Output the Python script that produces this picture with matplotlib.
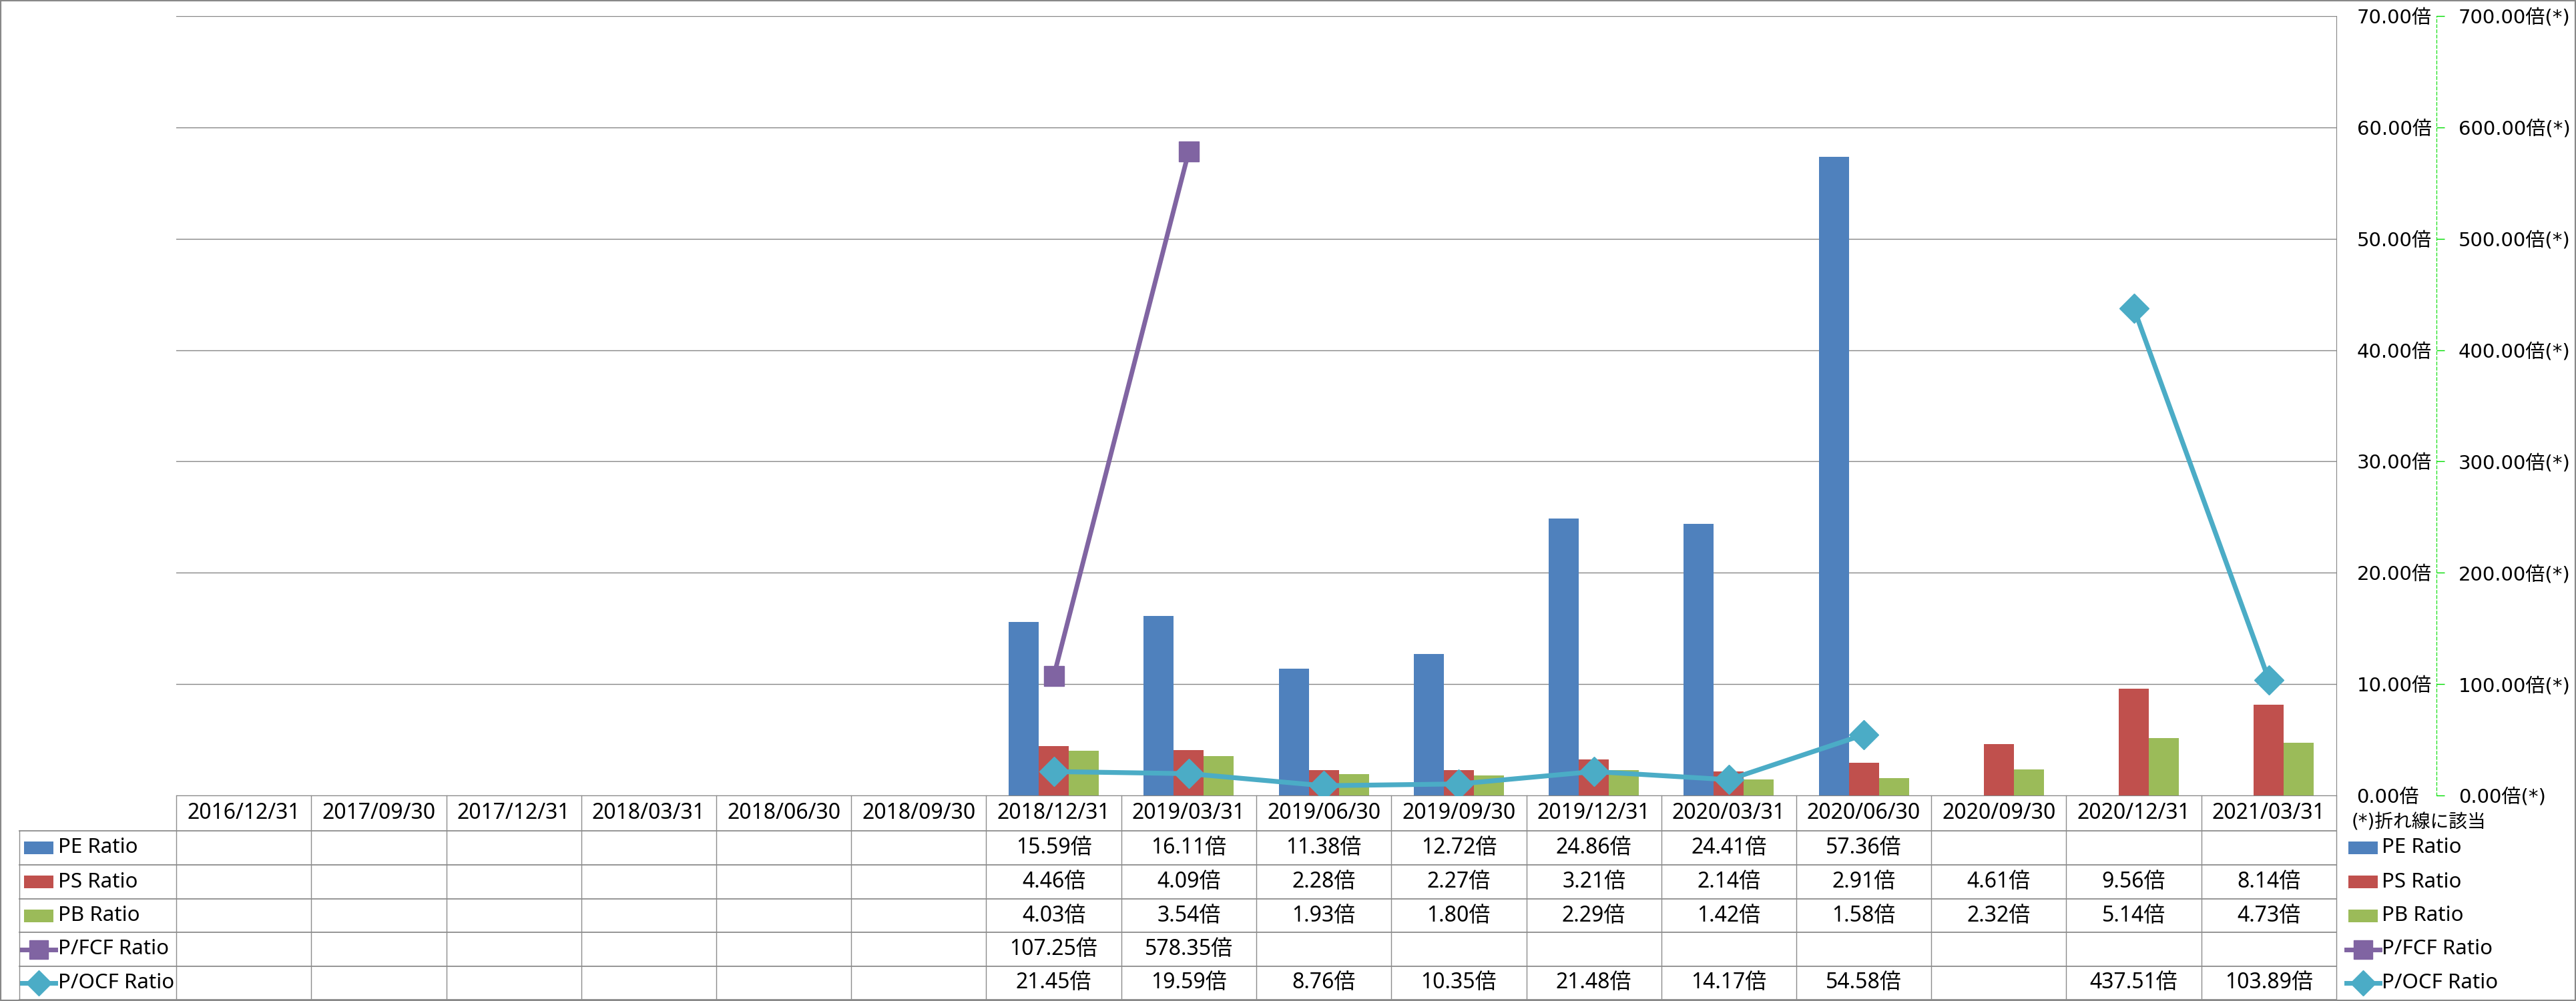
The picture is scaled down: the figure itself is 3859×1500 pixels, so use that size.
import numpy as np
import matplotlib.pyplot as plt
from matplotlib.transforms import blended_transform_factory
from matplotlib.patches import Rectangle
from matplotlib.lines import Line2D

plt.rcParams['font.family'] = ['DejaVu Sans', 'Noto Sans CJK JP']

nan = np.nan
dates = ['2016/12/31', '2017/09/30', '2017/12/31', '2018/03/31', '2018/06/30',
         '2018/09/30', '2018/12/31', '2019/03/31', '2019/06/30', '2019/09/30',
         '2019/12/31', '2020/03/31', '2020/06/30', '2020/09/30', '2020/12/31',
         '2021/03/31']
pe = [nan] * 6 + [15.59, 16.11, 11.38, 12.72, 24.86, 24.41, 57.36, nan, nan, nan]
ps = [nan] * 6 + [4.46, 4.09, 2.28, 2.27, 3.21, 2.14, 2.91, 4.61, 9.56, 8.14]
pb = [nan] * 6 + [4.03, 3.54, 1.93, 1.80, 2.29, 1.42, 1.58, 2.32, 5.14, 4.73]
pfcf = [nan] * 6 + [107.25, 578.35] + [nan] * 8
pocf = [nan] * 6 + [21.45, 19.59, 8.76, 10.35, 21.48, 14.17, 54.58, nan, 437.51, 103.89]

names = ['PE Ratio', 'PS Ratio', 'PB Ratio', 'P/FCF Ratio', 'P/OCF Ratio']
colors = ['#4F81BD', '#C0504D', '#9BBB59', '#8064A2', '#4BACC6']
series = [pe, ps, pb, pfcf, pocf]

W, H = 3859, 1500
fig = plt.figure(figsize=(W / 100, H / 100), dpi=100)

# plot area in pixels
L, R, T, B = 264, 3500, 24, 1192
ax = fig.add_axes([L / W, 1 - B / H, (R - L) / W, (B - T) / H])
ax2 = ax.twinx()

x = np.arange(len(dates))
w = 0.2225
ax.bar(x - w, pe, w, color=colors[0])
ax.bar(x, ps, w, color=colors[1])
ax.bar(x + w, pb, w, color=colors[2])

ax2.plot(x, pfcf, color=colors[3], lw=5, marker='s', ms=22)
ax2.plot(x, pocf, color=colors[4], lw=5.2, marker='D', ms=22)

grid_c = '#868686'
ax.set_xlim(-0.5, len(dates) - 0.5)
ax.set_ylim(0, 70)
ax2.set_ylim(0, 700)
ax.set_xticks([])
ax.set_yticks(range(0, 71, 10))
ax.set_yticklabels(['%.2f倍' % v for v in range(0, 71, 10)])
ax2.set_yticks(range(0, 701, 100))
ax2.set_yticklabels(['%.2f倍(*)' % v for v in range(0, 701, 100)])
ax.yaxis.tick_right()
ax.tick_params(axis='y', length=0, pad=22, labelsize=21)
ax.set_axisbelow(True)
ax.yaxis.grid(True, color=grid_c, lw=1)
for s in ['left', 'top']:
    ax.spines[s].set_visible(False)
ax.spines['right'].set_color(grid_c)
ax.spines['bottom'].set_color(grid_c)
for s in ['left', 'top', 'bottom']:
    ax2.spines[s].set_visible(False)
green = '#00DD00'
ax2.spines['right'].set_position(('outward', 108))
ax2.spines['right'].set_color(green)
ax2.spines['right'].set_linestyle((0, (4, 3)))
ax2.tick_params(axis='y', length=8.6, width=1, color=green, pad=15, labelsize=21)

# data table below the plot
tx = blended_transform_factory(ax.transData, fig.transFigure)
fx = fig.transFigure


def yf(py):
    return 1 - py / H


rows_y = [1192, 1245, 1296, 1347, 1397, 1448, 1498]
line_c = '#8C8C8C'
tfont = ['Noto Sans', 'Noto Sans CJK JP']

for i in range(len(dates) + 1):
    fig.add_artist(Line2D([i - 0.5, i - 0.5], [yf(1192), yf(1498)],
                          transform=tx, color=line_c, lw=1))
for py in rows_y[1:]:
    fig.add_artist(Line2D([29 / W, R / W], [yf(py), yf(py)],
                          transform=fx, color=line_c, lw=1.3))
fig.add_artist(Line2D([29 / W, 29 / W], [yf(1245), yf(1498)],
                      transform=fx, color=line_c, lw=1))

for i, d in enumerate(dates):
    fig.text(i, yf((rows_y[0] + rows_y[1]) / 2), d, transform=tx,
             ha='center', va='center', fontsize=23, family=tfont)

for k, (name, c, vals) in enumerate(zip(names, colors, series)):
    cy = (rows_y[k + 1] + rows_y[k + 2]) / 2
    for i, v in enumerate(vals):
        if not np.isnan(v):
            fig.text(i, yf(cy), '%.2f倍' % v, transform=tx,
                     ha='center', va='center', fontsize=23, family=tfont)
    # legend keys: inside the table and at the right
    for x0, tx0 in [(36, 87), (3518, 3568)]:
        if k < 3:
            fig.add_artist(Rectangle((x0 / W, yf(cy + 9.5)), 44 / W, 19 / H,
                                     transform=fx, color=c, lw=0))
        else:
            mk = 's' if k == 3 else 'D'
            fig.add_artist(Line2D([(x0 - 3) / W, (x0 + 47) / W], [yf(cy)] * 2,
                                  transform=fx, color=c, lw=5))
            fig.add_artist(Line2D([(x0 + 22) / W], [yf(cy)], transform=fx,
                                  color=c, marker=mk, ms=20 if k == 3 else 19))
        fig.text(tx0 / W, yf(cy), name, transform=fx, ha='left',
                 va='center', fontsize=22.5, family=tfont)

fig.text(3523 / W, yf(1232), '(*)折れ線に該当', ha='left', va='center',
         fontsize=20, family=['DejaVu Sans', 'Noto Sans CJK JP'])

# outer border
fig.add_artist(Rectangle((0, 0), 1, 1, transform=fx, fill=False,
                         edgecolor='#888888', lw=3))

fig.savefig('out.png', dpi=100)
